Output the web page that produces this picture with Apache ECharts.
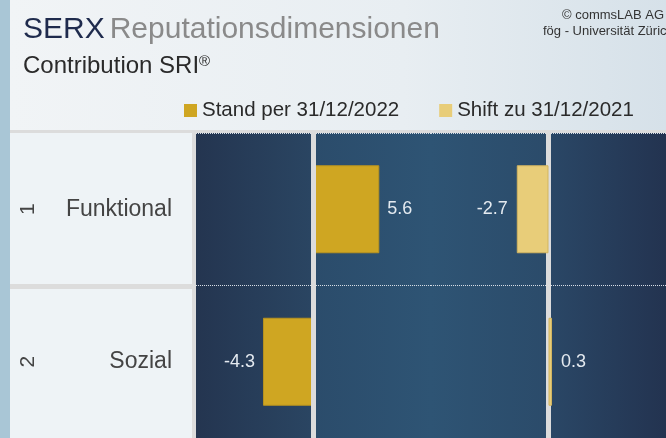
<!DOCTYPE html>
<html>
<head>
<meta charset="UTF-8">
<title>SERX Reputationsdimensionen</title>
<script src="https://cdn.jsdelivr.net/npm/echarts@6/dist/echarts.min.js"></script>
<style>
body { margin: 0; background: #dfe7ed; }
#main { width: 666px; height: 438px; }
</style>
</head>
<body>
<div id="main"></div>
<script>
// data
var dimensionen = ['Funktional', 'Sozial'];
var rang = ['1', '2'];
var stand2022 = [5.6, -4.3];
var shift2021 = [-2.7, 0.3];

var font = "'Liberation Sans', Arial, sans-serif";
var chart = echarts.init(document.getElementById('main'));

// label left of negative bars, right of positive ones
function werte(arr) {
    return arr.map(function (v) {
        return {value: v, label: {position: v < 0 ? 'left' : 'right'}};
    });
}

// grey divider on the zero line
function trenner(z) {
    return {
        silent: true,
        z: z,
        symbol: 'none',
        label: {show: false},
        lineStyle: {type: 'solid', color: '#dcdcdc', width: 5},
        data: [{xAxis: 0}]
    };
}

var option = {
    backgroundColor: '#dfe7ed',
    textStyle: {fontFamily: font},
    animation: false,
    graphic: [
        {type: 'rect', z: -10, shape: {x: 10, y: 0, width: 656, height: 438},
            style: {fill: new echarts.graphic.LinearGradient(0, 0, 1, 0, [
                {offset: 0, color: '#f1f4f6'}, {offset: 0.6, color: '#e8eef2'}, {offset: 1, color: '#d6e1e9'}])}},
        {type: 'rect', z: -10, shape: {x: 0, y: 0, width: 10, height: 438}, style: {fill: '#a9c6d6'}},
        {type: 'rect', z: -9, shape: {x: 10, y: 133, width: 182, height: 305}, style: {fill: '#eef3f6'}},
        {type: 'rect', z: 10, shape: {x: 10, y: 130, width: 656, height: 3}, style: {fill: '#dcdcdc'}},
        {type: 'rect', z: 10, shape: {x: 192, y: 130, width: 4, height: 308}, style: {fill: '#dcdcdc'}},
        {type: 'rect', z: 10, shape: {x: 10, y: 284, width: 182, height: 5}, style: {fill: '#dcdcdc'}}
    ],
    title: [
        {
            text: '{a|SERX} {b|Reputationsdimensionen}',
            left: 18, top: 10,
            textStyle: {
                rich: {
                    a: {fontSize: 30, fontWeight: 'normal', color: '#1f2b4d', fontFamily: font},
                    b: {fontSize: 30, fontWeight: 'normal', color: '#8a8a8a', fontFamily: font}
                }
            }
        },
        {
            text: 'Contribution SRI{r|®}',
            left: 18, top: 49,
            textStyle: {
                fontSize: 24, fontWeight: 'normal', color: '#2a2a2a',
                rich: {r: {fontSize: 15, fontWeight: 'normal', color: '#2a2a2a', padding: [0, 0, 10, 0]}}
            }
        },
        {text: '© commsLAB AG /', left: 557, top: 4,
            textStyle: {fontSize: 13, fontWeight: 'normal', color: '#333'}},
        {text: 'fög - Universität Zürich', left: 538, top: 20,
            textStyle: {fontSize: 13, fontWeight: 'normal', color: '#333'}}
    ],
    legend: {
        left: 179, top: 95,
        icon: 'rect', itemWidth: 13, itemHeight: 13, itemGap: 40,
        itemStyle: {borderWidth: 0},
        textStyle: {fontSize: 20.5, color: '#2a2a2a'},
        data: ['Stand per 31/12/2022', 'Shift zu 31/12/2021']
    },
    grid: [
        {left: 196, top: 133, width: 235, bottom: -3, show: true, borderWidth: 0,
            backgroundColor: new echarts.graphic.LinearGradient(0, 0, 1, 0, [
                {offset: 0, color: '#243550'}, {offset: 0.49, color: '#2a4562'},
                {offset: 0.5, color: '#2b4c6b'}, {offset: 1, color: '#2e5474'}])},
        {left: 431, top: 133, width: 235, bottom: -3, show: true, borderWidth: 0,
            backgroundColor: new echarts.graphic.LinearGradient(0, 0, 1, 0, [
                {offset: 0, color: '#2e5474'}, {offset: 0.5, color: '#2b4b6a'},
                {offset: 0.51, color: '#2a4766'}, {offset: 1, color: '#233350'}])}
    ],
    xAxis: [
        {type: 'value', gridIndex: 0, min: -10, max: 10, show: false},
        {type: 'value', gridIndex: 1, min: -10, max: 10, show: false}
    ],
    yAxis: [
        {
            type: 'category', gridIndex: 0, inverse: true, data: dimensionen,
            axisLine: {show: false}, axisTick: {show: false},
            axisLabel: {margin: 24, fontSize: 23, color: '#444'},
            splitLine: {show: true, lineStyle: {type: 'dotted', color: '#d8dee6', width: 1}}
        },
        {
            type: 'category', gridIndex: 0, inverse: true, data: rang, position: 'left',
            axisLine: {show: false}, axisTick: {show: false},
            axisLabel: {margin: 157, rotate: 90, fontSize: 21, color: '#444'},
            splitLine: {show: false}
        },
        {
            type: 'category', gridIndex: 1, inverse: true, data: dimensionen,
            axisLine: {show: false}, axisTick: {show: false}, axisLabel: {show: false},
            splitLine: {show: true, lineStyle: {type: 'dotted', color: '#d8dee6', width: 1}}
        }
    ],
    series: [
        {
            name: 'Stand per 31/12/2022', type: 'bar',
            xAxisIndex: 0, yAxisIndex: 0, barWidth: 88,
            itemStyle: {color: '#cfa622', borderColor: '#b8931f', borderWidth: 1},
            label: {show: true, distance: 8, fontSize: 18, color: '#e4eaf0',
                formatter: function (p) { return p.value.toFixed(1); }},
            markLine: trenner(5),
            data: werte(stand2022)
        },
        {
            name: 'Shift zu 31/12/2021', type: 'bar',
            xAxisIndex: 1, yAxisIndex: 2, barWidth: 88,
            itemStyle: {color: '#e8cd79', borderColor: '#d2b560', borderWidth: 1},
            label: {show: true, distance: 9, fontSize: 18, color: '#e4eaf0',
                formatter: function (p) { return p.value.toFixed(1); }},
            markLine: trenner(1),
            data: werte(shift2021)
        }
    ]
};

chart.setOption(option);
</script>
</body>
</html>
